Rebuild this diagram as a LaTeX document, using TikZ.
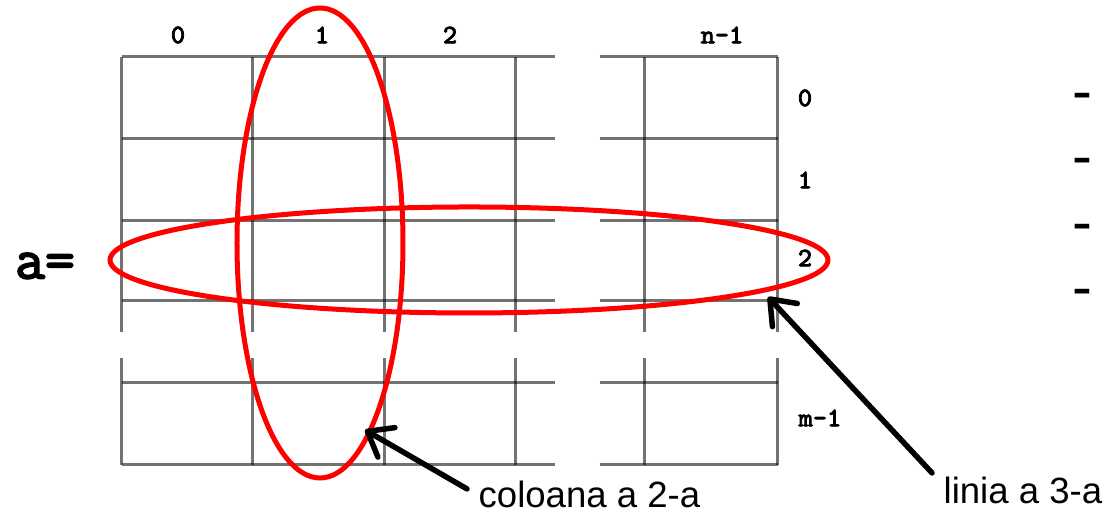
\documentclass[tikz,border=0pt]{standalone}
\usepackage{fontspec}
\setmainfont{Liberation Sans}
\setmonofont{Latin Modern Mono}[AutoFakeBold=3]
\usetikzlibrary{arrows.meta, positioning}
\tikzset{
    gridline/.style={draw=black, draw opacity=0.55, line width=0.03cm},
    ring/.style={draw=red, line width=0.05cm},
    idx/.style={font=\fontsize{7.6}{8}\selectfont\ttfamily\bfseries, inner sep=0pt},
    caption/.style={font=\fontsize{10.4}{12}\selectfont, inner sep=0pt},
    pointer/.style={line width=0.055cm, line cap=round, -{Straight Barb[length=2.2mm, width=3.4mm, round]}},
    dashmark/.style={font=\fontsize{17}{17}\selectfont, inner sep=0pt}
}

\begin{document}
\begin{tikzpicture}
                \useasboundingbox (0,0) rectangle (11.07,5.15);

                % Grid (left block and right block, with gaps)
                \foreach \y in {4.58,3.76,2.94,2.14,1.32,0.50} {
                    \draw[gridline] (1.22,\y) -- (5.55,\y);
                    \draw[gridline] (6.00,\y) -- (7.78,\y);
                }
                \foreach \x in {1.22,2.53,3.85,5.16,6.45,7.78} {
                    \draw[gridline] (\x,4.58) -- (\x,1.83);
                    \draw[gridline] (\x,1.57) -- (\x,0.50);
                }

                % Column indices
                \node (col_0) [idx] at (1.78, 4.80) {0};
                \node (col_1) [idx] at (3.22, 4.80) {1};
                \node (col_2) [idx] at (4.50, 4.80) {2};
                \node (col_n) [idx] at (7.22, 4.80) {n-1};

                % Row indices
                \node (row_0) [idx] at (8.05, 4.17) {0};
                \node (row_1) [idx] at (8.05, 3.35) {1};
                \node (row_2) [idx] at (8.05, 2.57) {2};
                \node (row_m) [idx] at (8.20, 0.97) {m-1};

                % Matrix name
                \node (name_a) [font=\fontsize{16.5}{16.5}\selectfont\ttfamily\bfseries, inner sep=0pt] at (0.45, 2.49) {a=};

                % Red ellipses (column 2 and row 3)
                \draw[ring] (3.20, 2.72) ellipse [x radius=0.83cm, y radius=2.35cm];
                \draw[ring] (4.69, 2.55) ellipse [x radius=3.59cm, y radius=0.53cm];

                % Captions and pointers
                \coordinate (tip_col) at (3.65, 0.85);
                \coordinate (tip_row) at (7.68, 2.18);
                \node (lbl_col) [caption, anchor=base west] at (4.78, 0.07) {coloana a 2-a};
                \node (lbl_row) [caption, anchor=base west] at (9.43, 0.11) {linia a 3-a};
                \draw [pointer] ([shift={(-0.11,0.06)}]lbl_col.west) -- (tip_col);
                \draw [pointer] ([shift={(-0.11,0.18)}]lbl_row.west) -- (tip_row);

                % Dashes on the right
                \node (dash_1) [dashmark] at (10.82, 4.13) {-};
                \node (dash_2) [dashmark] at (10.82, 3.48) {-};
                \node (dash_3) [dashmark] at (10.82, 2.82) {-};
                \node (dash_4) [dashmark] at (10.82, 2.17) {-};

            \end{tikzpicture}
\end{document}
